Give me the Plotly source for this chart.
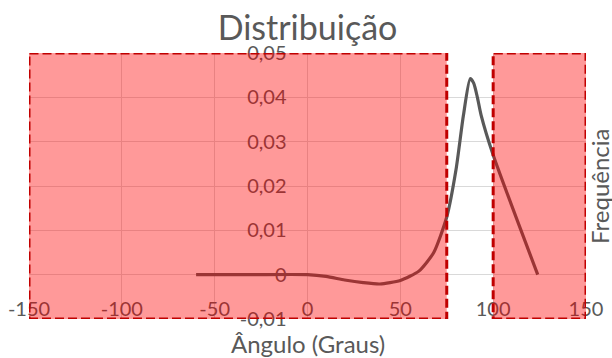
import plotly.graph_objects as go

# Data
angles = [-60, -30, 0, 10, 20, 30, 39, 50, 60, 68, 75, 80, 84, 87.6, 89.5, 91.5, 93.5, 100, 124]
freq = [0, 0, 0, -0.0004, -0.0012, -0.0018, -0.0021, -0.0013, 0.0008, 0.005, 0.013,
        0.0237, 0.036, 0.0442, 0.0432, 0.040, 0.036, 0.027, 0]

x_ticks = [-150, -100, -50, 0, 50, 100, 150]
x_ticklabels = ["-150", "-100", "-50", "0", "50", "100", "150"]
y_ticks = [-0.01, 0, 0.01, 0.02, 0.03, 0.04, 0.05]
y_ticklabels = ["-0,01", "0", "0,01", "0,02", "0,03", "0,04", "0,05"]

# shaded (excluded) angle ranges
shaded_x = [(-150, 75), (100, 150)]
shaded_y = (-0.01, 0.05)

TEXT = "#595959"
GRID = "#D9D9D9"
FONT = "Lato"

fig = go.Figure()
fig.add_trace(go.Scatter(
    x=angles, y=freq, mode="lines",
    line=dict(color="#595959", width=3.2, shape="spline", smoothing=0.6),
    hoverinfo="skip", showlegend=False,
))

for x0, x1 in shaded_x:
    fig.add_shape(type="rect", xref="x", yref="y", x0=x0, x1=x1,
                  y0=shaded_y[0], y1=shaded_y[1],
                  fillcolor="rgba(255,0,0,0.4)",
                  line=dict(color="#C00000", width=3, dash="9px,4px"),
                  layer="above")

fig.update_layout(
    width=612, height=358, autosize=False,
    margin=dict(l=29, r=26, t=53, b=39),
    paper_bgcolor="white", plot_bgcolor="white",
    font=dict(family=FONT, color=TEXT),
    title=dict(text="Distribuição", x=0.5, xref="paper", xanchor="center",
               y=1 - 28 / 358, yref="container", yanchor="middle",
               font=dict(size=34, color=TEXT, family=FONT)),
    xaxis=dict(range=[-150, 150], tickvals=x_ticks, ticktext=x_ticklabels,
               showgrid=True, gridcolor=GRID, gridwidth=1.3, zeroline=False,
               showline=False, ticks="", anchor="free", position=0.09,
               automargin=False,
               tickfont=dict(size=20, color=TEXT, family=FONT)),
    yaxis=dict(range=[-0.01, 0.05], tickvals=y_ticks, ticktext=y_ticklabels,
               showgrid=True, gridcolor=GRID, gridwidth=1.3, zeroline=False,
               showline=False, ticks="", side="left", anchor="free", position=0.5,
               ticklabelstandoff=21, automargin=False,
               tickfont=dict(size=20, color=TEXT, family=FONT)),
    annotations=[
        dict(text="Ângulo (Graus)", xref="paper", yref="paper", x=0.5, y=-24 / 266,
             xanchor="center", yanchor="middle", showarrow=False,
             font=dict(size=24, color=TEXT, family=FONT)),
        dict(text="Frequência", xref="paper", yref="paper", x=1.0, y=0.5,
             xanchor="center", yanchor="middle", xshift=13, textangle=-90,
             showarrow=False, font=dict(size=24, color=TEXT, family=FONT)),
    ],
)

fig.write_html("out.html", config={"displayModeBar": False},
               post_script="document.body.style.margin='0px';document.body.style.overflow='hidden';")
